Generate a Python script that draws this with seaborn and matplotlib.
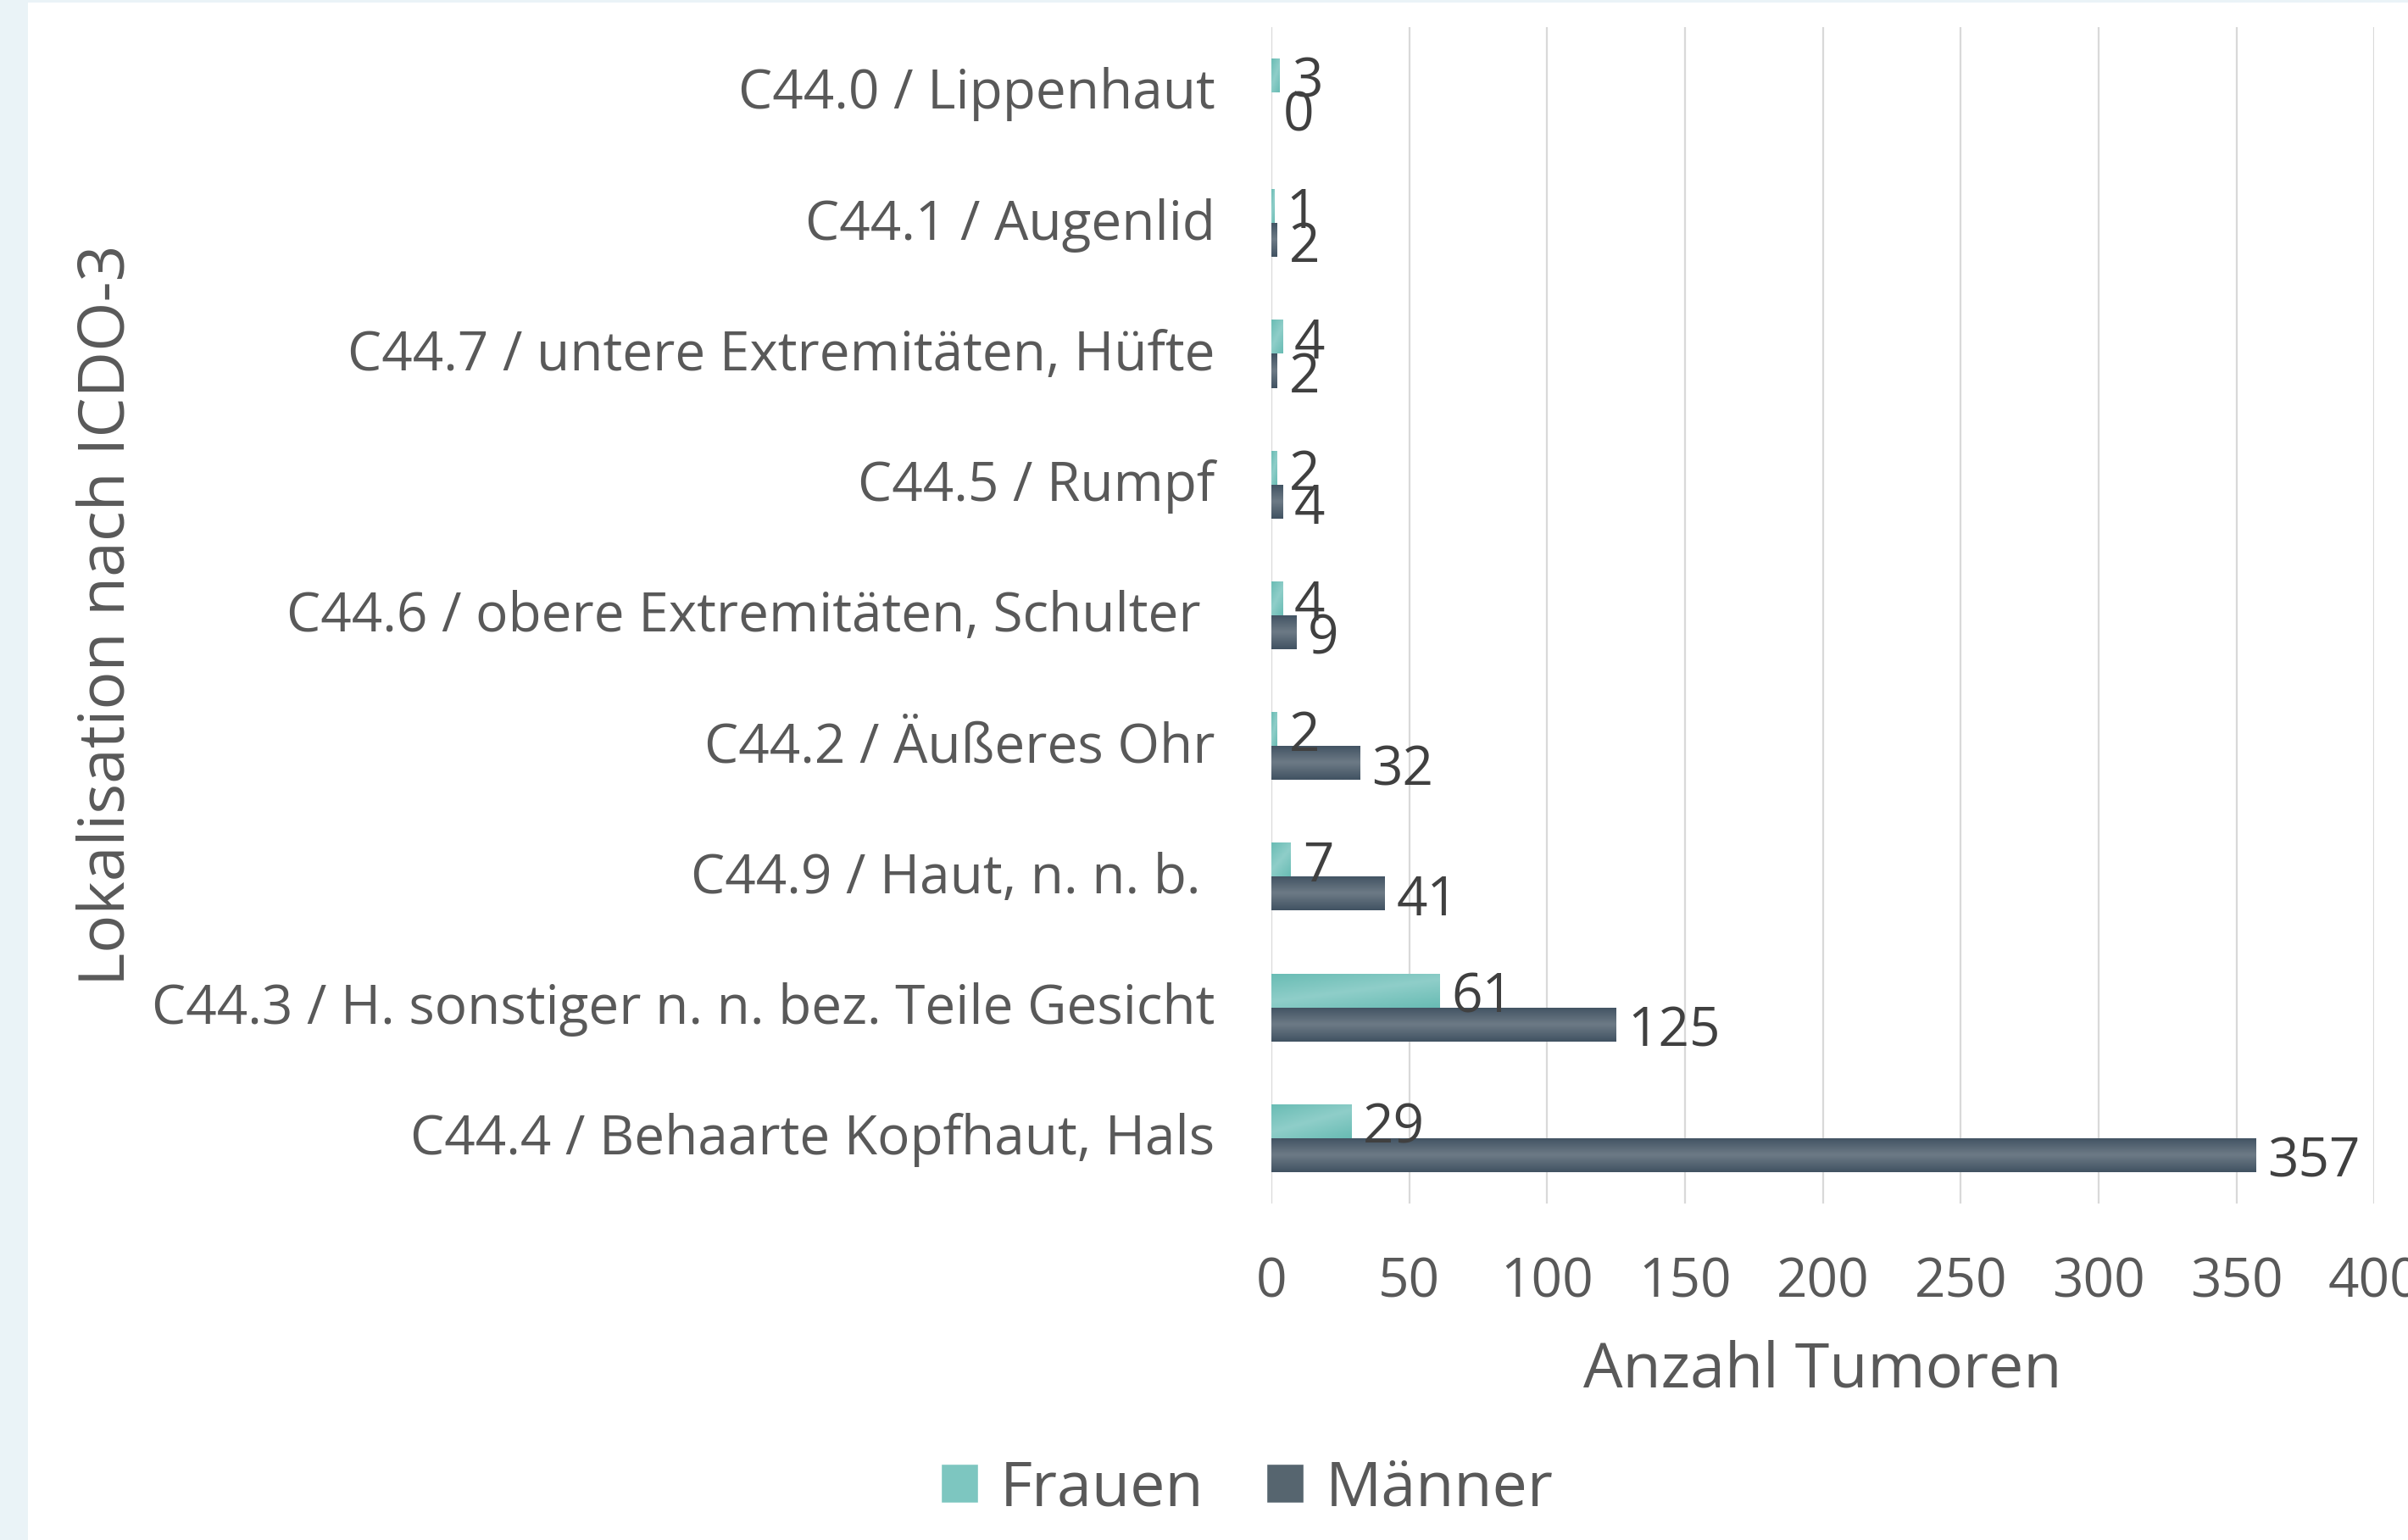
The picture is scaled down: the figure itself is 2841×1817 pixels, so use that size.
import numpy as np
import pandas as pd
import matplotlib
matplotlib.use("Agg")
import matplotlib.pyplot as plt
import matplotlib.transforms as mtransforms
from matplotlib.colors import LinearSegmentedColormap
from matplotlib.patches import Patch, Rectangle
import seaborn as sns

# Daten (von oben nach unten)
LOCATIONS = [
    "C44.0 / Lippenhaut",
    "C44.1 / Augenlid",
    "C44.7 / untere Extremitäten, Hüfte",
    "C44.5 / Rumpf",
    "C44.6 / obere Extremitäten, Schulter ",
    "C44.2 / Äußeres Ohr",
    "C44.9 / Haut, n. n. b. ",
    "C44.3 / H. sonstiger n. n. bez. Teile Gesicht",
    "C44.4 / Behaarte Kopfhaut, Hals",
]
FRAUEN = [3, 1, 4, 2, 4, 2, 7, 61, 29]
MAENNER = [0, 2, 2, 4, 9, 32, 41, 125, 357]
SEXES = ["Frauen", "Männer"]
X_TICKS = list(range(0, 401, 50))

TEXT = "#595959"
LABEL_TXT = "#404040"
TEAL_MID = "#7DC6C0"
SLATE_MID = "#56656F"
TEAL_CMAP = LinearSegmentedColormap.from_list("teal", ["#69BCB4", "#8FCEC9"])
SLATE_CMAP = LinearSegmentedColormap.from_list("slate", ["#425363", "#6D7A86"])


def shade_bars(ax, container, cmap, diagonal):
    gx, gy = np.meshgrid(np.linspace(0, 1, 80), np.linspace(0, 1, 24))
    if diagonal:
        grad = 1 - np.abs(gx * 0.6 + gy * 0.9 - 0.75) / 0.75
    else:
        grad = 1 - np.abs(2 * gy - 1)
    for p in container.patches:
        x0, y0, w, h = p.get_x(), p.get_y(), p.get_width(), p.get_height()
        if w <= 0:
            continue
        im = ax.imshow(grad, cmap=cmap, vmin=0, vmax=1, aspect="auto",
                       extent=[x0, x0 + w, y0 + h, y0], zorder=2,
                       interpolation="bilinear")
        im.set_clip_path(p)


def main():
    df = pd.DataFrame({
        "lokalisation": LOCATIONS * 2,
        "geschlecht": [SEXES[0]] * len(FRAUEN) + [SEXES[1]] * len(MAENNER),
        "anzahl": FRAUEN + MAENNER,
    })

    sns.set_style("white")
    plt.rcParams["font.family"] = ["Open Sans", "DejaVu Sans"]

    fig = plt.figure(figsize=(28.41, 18.17), dpi=100)
    ax = fig.add_axes([0.528, 0.2185, 0.458, 0.764])

    sns.barplot(data=df, x="anzahl", y="lokalisation", hue="geschlecht",
                hue_order=SEXES, order=LOCATIONS, orient="h",
                palette={"Frauen": TEAL_MID, "Männer": SLATE_MID},
                width=0.52, saturation=1, errorbar=None, linewidth=0,
                legend=False, ax=ax)

    shade_bars(ax, ax.containers[0], TEAL_CMAP, diagonal=True)
    shade_bars(ax, ax.containers[1], SLATE_CMAP, diagonal=False)

    for cont, vals in zip(ax.containers, [FRAUEN, MAENNER]):
        anns = ax.bar_label(cont, labels=[str(v) for v in vals], padding=10,
                            fontsize=46, color=LABEL_TXT, zorder=3)
        for a in anns:
            a.xyann = (a.xyann[0], a.xyann[1] - 6.5)

    ax.set_xlim(0, 400)
    ax.set_ylim(len(LOCATIONS) - 0.5, -0.5)
    ax.set_xticks(X_TICKS)
    ax.grid(axis="x", color="#D9D9D9", linewidth=1.6)
    ax.grid(axis="y", visible=False)
    ax.set_axisbelow(True)
    for s in ax.spines.values():
        s.set_visible(False)
    ax.tick_params(axis="both", length=0, labelsize=46, labelcolor=TEXT)
    ax.tick_params(axis="y", pad=48)
    ax.tick_params(axis="x", pad=44)
    shift_up = mtransforms.ScaledTranslation(0, 5 / 100, fig.dpi_scale_trans)
    for lab in ax.get_yticklabels():
        lab.set_transform(lab.get_transform() + shift_up)

    ax.set_xlabel("Anzahl Tumoren", fontsize=53, color=TEXT, va="center")
    ax.xaxis.set_label_coords(0.5, -0.1425)
    ax.set_ylabel("Lokalisation nach ICDO-3", fontsize=54, color=TEXT, va="center")
    ax.yaxis.set_label_coords((127 - 1500) / 1301, 0.5)

    handles = [Patch(facecolor=TEAL_MID, label="Frauen"),
               Patch(facecolor=SLATE_MID, label="Männer")]
    leg = fig.legend(handles=handles, loc="center", bbox_to_anchor=(0.518, 0.033),
                     ncol=2, frameon=False, fontsize=53, handlelength=0.6,
                     handleheight=0.6, handletextpad=0.35, columnspacing=1.0)
    for t in leg.get_texts():
        t.set_color(TEXT)

    # hellblauer Rahmen links und oben
    fig.add_artist(Rectangle((0, 0), 33 / 2841, 1, transform=fig.transFigure,
                             facecolor="#EAF3F7", edgecolor="none", zorder=0))
    fig.add_artist(Rectangle((0, 1 - 3 / 1817), 1, 3 / 1817, transform=fig.transFigure,
                             facecolor="#EAF3F7", edgecolor="none", zorder=0))

    fig.savefig("out.png", dpi=100, facecolor="white")


if __name__ == "__main__":
    main()
